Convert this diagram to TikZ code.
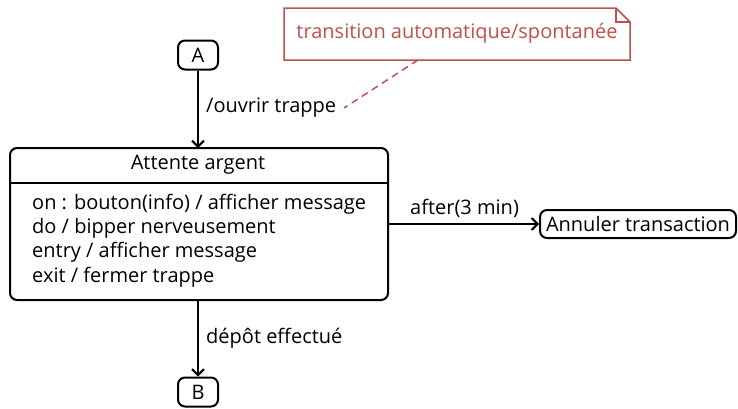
\documentclass[tikz,border=0pt]{standalone}
\usepackage{fontspec}
\setmainfont{Open Sans}
\usetikzlibrary{arrows.meta}
\definecolor{notered}{HTML}{C0504D}
\begin{document}
\begin{tikzpicture}[x=1pt,y=-1pt,
  font=\fontsize{20}{24}\selectfont,
  every node/.style={inner sep=0pt},
  pseudo/.style={draw, line width=2pt, rounded corners=7pt},
  flow/.style={line width=2pt, -{Straight Barb[length=6pt,width=12pt]}},
  lbl/.style={anchor=west}]
\useasboundingbox (0,0) rectangle (738,408);

% pseudo-states and the target state
\node[pseudo, minimum width=40pt, minimum height=29pt] (A) at (198,55) {A};
\node[pseudo, minimum width=40pt, minimum height=29pt] (B) at (198,392) {B};
\node[pseudo, minimum width=196pt, minimum height=28pt] (C) at (638,224) {Annuler transaction};

% composite state with header and internal activities
\draw[pseudo] (10,148) rectangle (388,300);
\coordinate (Stop) at (198,148);
\coordinate (Sbot) at (198,300);
\coordinate (Sright) at (388,224);
\draw[line width=2pt] (10,183) -- (388,183);
\node (title) at (198,165) {Attente argent};
\node[lbl] (l1) at (32,204) {on : bouton(info) / afficher message};
\node[lbl] (l2) at (32,228) {do / bipper nerveusement};
\node[lbl] (l3) at (32,252) {entry / afficher message};
\node[lbl] (l4) at (32,277) {exit / fermer trappe};

% transitions
\draw[flow] (A.south) -- (Stop);
\node[lbl] (t1) at (206,108) {/ouvrir trappe};
\draw[flow] (Sbot) -- (B.north);
\node[lbl] (t2) at (206,338) {dépôt effectué};
\draw[flow] (Sright) -- (C.west);
\node[lbl] (t3) at (410,208) {after(3 min)};

% note
\draw[notered, line width=1.5pt, fill=white]
  (284,8) -- (616,8) -- (630,22) -- (630,60) -- (284,60) -- cycle;
\draw[notered, line width=1.5pt] (616,8) -- (616,22) -- (630,22);
\node[text=notered] (note) at (457,33) {transition automatique/spontanée};
\coordinate (na) at (418,60);
\coordinate (nb) at (344,108);
\draw[notered, line width=1.5pt, dash pattern=on 7pt off 5pt] (na) -- (nb);
\end{tikzpicture}
\end{document}
